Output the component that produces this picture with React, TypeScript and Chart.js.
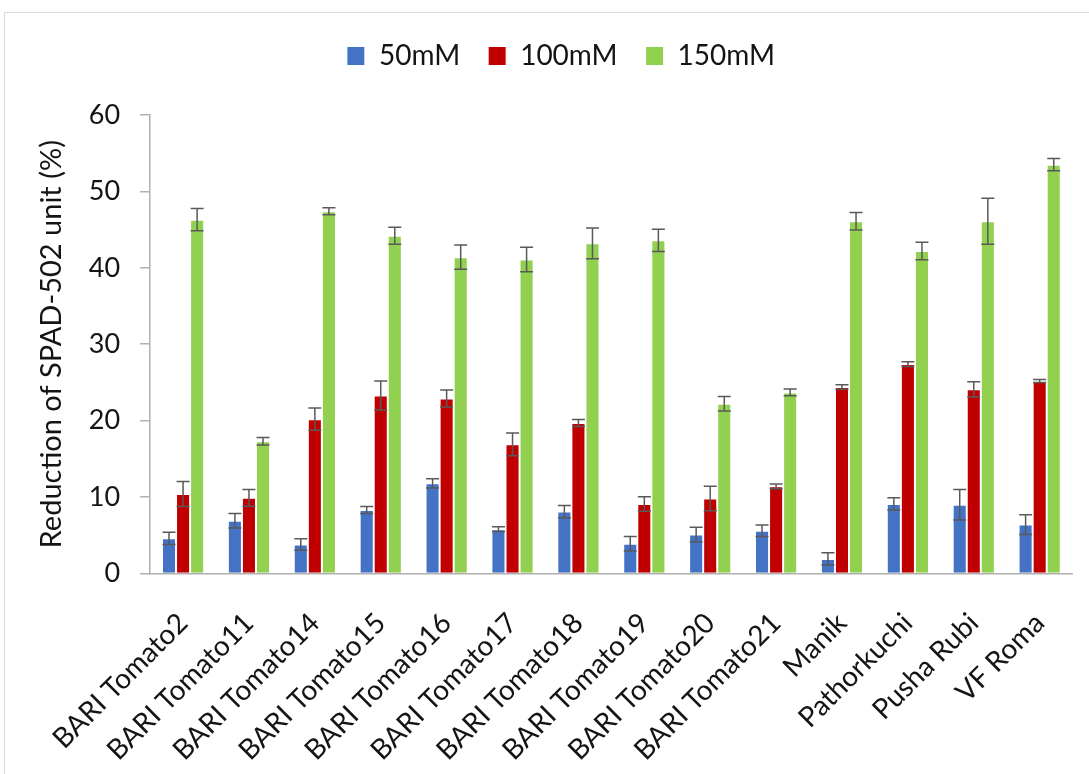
import React, { useEffect, useRef } from "react";
import { Chart, registerables } from "chart.js";

Chart.register(...registerables);

const categories = [
  "BARI Tomato2", "BARI Tomato11", "BARI Tomato14", "BARI Tomato15", "BARI Tomato16",
  "BARI Tomato17", "BARI Tomato18", "BARI Tomato19", "BARI Tomato20", "BARI Tomato21",
  "Manik", "Pathorkuchi", "Pusha Rubi", "VF Roma",
];
const seriesNames = ["50mM", "100mM", "150mM"];
const values50 = [4.6, 6.9, 3.8, 8.3, 11.8, 5.8, 8.1, 3.9, 5.1, 5.6, 1.9, 9.1, 9.0, 6.4];
const errors50 = [0.8, 0.95, 0.75, 0.45, 0.6, 0.3, 0.8, 0.95, 0.95, 0.75, 0.8, 0.8, 2.0, 1.3];
const values100 = [10.4, 9.9, 20.2, 23.3, 22.9, 16.9, 19.7, 9.1, 9.8, 11.4, 24.4, 27.4, 24.1, 25.2];
const errors100 = [1.65, 1.1, 1.45, 1.9, 1.1, 1.5, 0.45, 0.95, 1.6, 0.3, 0.3, 0.3, 1.0, 0.2];
const values150 = [46.3, 17.3, 47.4, 44.2, 41.4, 41.1, 43.2, 43.6, 22.2, 23.7, 46.1, 42.2, 46.1, 53.5];
const errors150 = [1.45, 0.5, 0.45, 1.1, 1.6, 1.6, 2.0, 1.45, 0.95, 0.45, 1.15, 1.15, 3.0, 0.8];
const yTicks = [0, 10, 20, 30, 40, 50, 60];

const colors = ["#4472C4", "#C00000", "#92D050"];
const FONT = "Lato, 'Open Sans', sans-serif";
const TEXT = "#141414";
const AXIS = "#b0b0b0";

const errorBarPlugin = {
  id: "errorBars",
  afterDatasetsDraw(chart: any) {
    const ctx = chart.ctx;
    const yScale = chart.scales.y;
    chart.data.datasets.forEach((ds: any, di: number) => {
      const meta = chart.getDatasetMeta(di);
      if (meta.hidden) return;
      meta.data.forEach((bar: any, i: number) => {
        const v = ds.data[i];
        const e = ds.errors[i];
        const yTop = yScale.getPixelForValue(v + e);
        const yBot = yScale.getPixelForValue(v - e);
        const x = bar.x;
        const half = 6.5;
        ctx.save();
        ctx.strokeStyle = "#595959";
        ctx.lineWidth = 1.5;
        ctx.beginPath();
        ctx.moveTo(x, yTop);
        ctx.lineTo(x, yBot);
        ctx.moveTo(x - half, yTop);
        ctx.lineTo(x + half, yTop);
        ctx.moveTo(x - half, yBot);
        ctx.lineTo(x + half, yBot);
        ctx.stroke();
        ctx.restore();
      });
    });
  },
};

const legendSpacing = {
  id: "legendSpacing",
  beforeInit(chart: any) {
    const origFit = chart.legend.fit;
    chart.legend.fit = function fit() {
      origFit.bind(chart.legend)();
      this.height += 35;
    };
  },
  afterLayout(chart: any) {
    chart.legend.left += 15;
    chart.legend.right += 15;
  },
};

export default function App() {
  const ref = useRef<HTMLCanvasElement | null>(null);
  useEffect(() => {
    if (!ref.current) return;
    const chart = new Chart(ref.current, {
      type: "bar",
      data: {
        labels: categories,
        datasets: [
          { label: seriesNames[0], data: values50, errors: errors50, backgroundColor: colors[0] } as any,
          { label: seriesNames[1], data: values100, errors: errors100, backgroundColor: colors[1] } as any,
          { label: seriesNames[2], data: values150, errors: errors150, backgroundColor: colors[2] } as any,
        ].map((d: any) => ({
          ...d,
          borderColor: "#ffffff",
          borderWidth: 1,
          categoryPercentage: 0.64,
          barPercentage: 1.0,
        })),
      },
      options: {
        animation: false,
        responsive: false,
        maintainAspectRatio: false,
        layout: { padding: { top: 1, right: 16, bottom: 0, left: 14 } },
        plugins: {
          legend: {
            position: "top",
            labels: {
              boxWidth: 18,
              boxHeight: 19,
              padding: 28,
              color: TEXT,
              font: { family: FONT, size: 28 },
            },
          },
          tooltip: { enabled: false },
        },
        scales: {
          x: {
            grid: { display: false },
            border: { display: true, color: AXIS, width: 1.5 },
            ticks: {
              minRotation: 45,
              maxRotation: 45,
              color: TEXT,
              font: { family: FONT, size: 28 },
              padding: 25,
            },
          },
          y: {
            min: 0,
            max: 60,
            afterBuildTicks: (axis: any) => {
              axis.ticks = yTicks.map((v) => ({ value: v }));
            },
            grid: {
              display: true,
              drawOnChartArea: false,
              drawTicks: true,
              tickLength: 10,
              color: AXIS,
              lineWidth: 1.5,
            },
            border: { display: true, color: AXIS, width: 1.5 },
            ticks: {
              color: TEXT,
              font: { family: FONT, size: 27 },
              padding: 20,
            },
            title: {
              display: true,
              text: "Reduction of SPAD-502 unit (%)",
              color: TEXT,
              font: { family: FONT, size: 29 },
              padding: { top: 15, bottom: 0 },
            },
          },
        },
      },
      plugins: [errorBarPlugin, legendSpacing],
    });
    return () => chart.destroy();
  }, []);

  return (
    <div
      style={{
        position: "absolute",
        left: 4,
        top: 12,
        width: 1100,
        height: 820,
        border: "1.5px solid #d9d9d9",
        background: "#fff",
      }}
    >
      <canvas ref={ref} width={1084} height={779} style={{ display: "block" }} />
    </div>
  );
}
